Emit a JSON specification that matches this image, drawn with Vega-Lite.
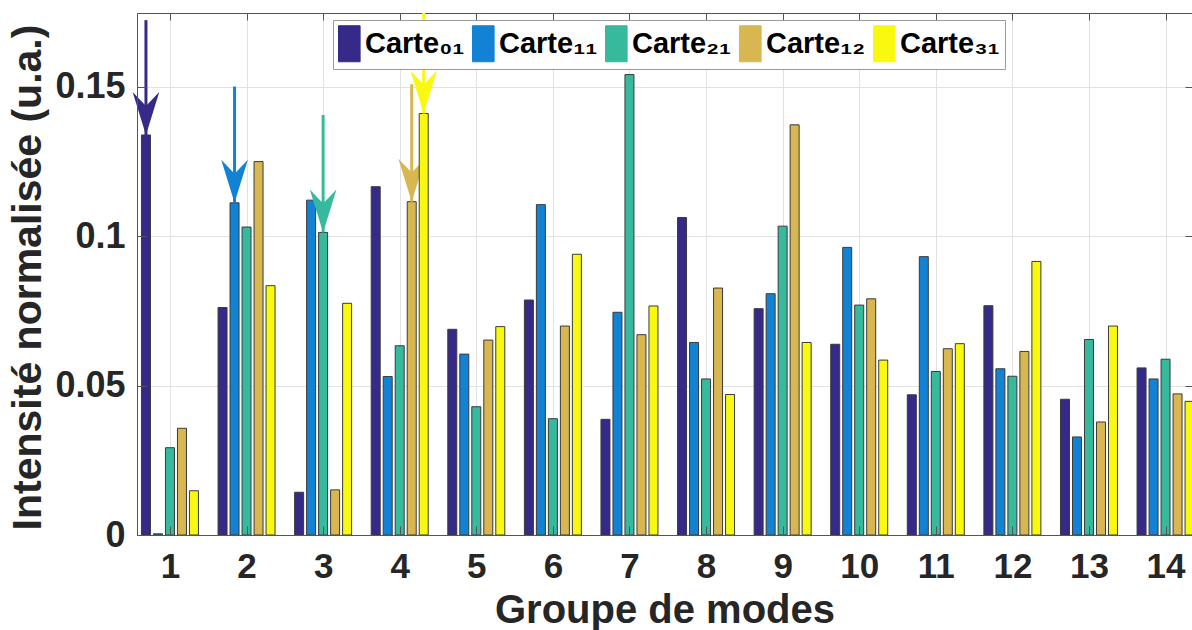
{
  "$schema": "https://vega.github.io/schema/vega-lite/v6.json",
  "width": 1055,
  "height": 522,
  "autosize": "none",
  "padding": {"left": 137, "top": 13, "right": 0, "bottom": 95},
  "background": "white",
  "config": {
    "font": "Liberation Sans",
    "view": {"stroke": null}
  },
  "data": {
    "values": [
      {"group": 1, "carte": "Carte01", "value": 0.1338, "arrow": 0.1722},
      {"group": 1, "carte": "Carte11", "value": 0.0004},
      {"group": 1, "carte": "Carte21", "value": 0.0292},
      {"group": 1, "carte": "Carte12", "value": 0.0357},
      {"group": 1, "carte": "Carte31", "value": 0.0148},
      {"group": 2, "carte": "Carte01", "value": 0.0761},
      {"group": 2, "carte": "Carte11", "value": 0.1111, "arrow": 0.150},
      {"group": 2, "carte": "Carte21", "value": 0.1030},
      {"group": 2, "carte": "Carte12", "value": 0.1249},
      {"group": 2, "carte": "Carte31", "value": 0.0834},
      {"group": 3, "carte": "Carte01", "value": 0.0143},
      {"group": 3, "carte": "Carte11", "value": 0.1120},
      {"group": 3, "carte": "Carte21", "value": 0.1012, "arrow": 0.1405},
      {"group": 3, "carte": "Carte12", "value": 0.0151},
      {"group": 3, "carte": "Carte31", "value": 0.0775},
      {"group": 4, "carte": "Carte01", "value": 0.1165},
      {"group": 4, "carte": "Carte11", "value": 0.0530},
      {"group": 4, "carte": "Carte21", "value": 0.0633},
      {"group": 4, "carte": "Carte12", "value": 0.1115, "arrow": 0.1508},
      {"group": 4, "carte": "Carte31", "value": 0.1410, "arrow": 0.1746},
      {"group": 5, "carte": "Carte01", "value": 0.0688},
      {"group": 5, "carte": "Carte11", "value": 0.0605},
      {"group": 5, "carte": "Carte21", "value": 0.0429},
      {"group": 5, "carte": "Carte12", "value": 0.0652},
      {"group": 5, "carte": "Carte31", "value": 0.0697},
      {"group": 6, "carte": "Carte01", "value": 0.0786},
      {"group": 6, "carte": "Carte11", "value": 0.1105},
      {"group": 6, "carte": "Carte21", "value": 0.0389},
      {"group": 6, "carte": "Carte12", "value": 0.0699},
      {"group": 6, "carte": "Carte31", "value": 0.0939},
      {"group": 7, "carte": "Carte01", "value": 0.0387},
      {"group": 7, "carte": "Carte11", "value": 0.0745},
      {"group": 7, "carte": "Carte21", "value": 0.1540},
      {"group": 7, "carte": "Carte12", "value": 0.0670},
      {"group": 7, "carte": "Carte31", "value": 0.0766},
      {"group": 8, "carte": "Carte01", "value": 0.1062},
      {"group": 8, "carte": "Carte11", "value": 0.0644},
      {"group": 8, "carte": "Carte21", "value": 0.0522},
      {"group": 8, "carte": "Carte12", "value": 0.0826},
      {"group": 8, "carte": "Carte31", "value": 0.0470},
      {"group": 9, "carte": "Carte01", "value": 0.0757},
      {"group": 9, "carte": "Carte11", "value": 0.0807},
      {"group": 9, "carte": "Carte21", "value": 0.1033},
      {"group": 9, "carte": "Carte12", "value": 0.1372},
      {"group": 9, "carte": "Carte31", "value": 0.0644},
      {"group": 10, "carte": "Carte01", "value": 0.0638},
      {"group": 10, "carte": "Carte11", "value": 0.0962},
      {"group": 10, "carte": "Carte21", "value": 0.0769},
      {"group": 10, "carte": "Carte12", "value": 0.0790},
      {"group": 10, "carte": "Carte31", "value": 0.0585},
      {"group": 11, "carte": "Carte01", "value": 0.0469},
      {"group": 11, "carte": "Carte11", "value": 0.0931},
      {"group": 11, "carte": "Carte21", "value": 0.0547},
      {"group": 11, "carte": "Carte12", "value": 0.0623},
      {"group": 11, "carte": "Carte31", "value": 0.0640},
      {"group": 12, "carte": "Carte01", "value": 0.0767},
      {"group": 12, "carte": "Carte11", "value": 0.0556},
      {"group": 12, "carte": "Carte21", "value": 0.0531},
      {"group": 12, "carte": "Carte12", "value": 0.0614},
      {"group": 12, "carte": "Carte31", "value": 0.0915},
      {"group": 13, "carte": "Carte01", "value": 0.0454},
      {"group": 13, "carte": "Carte11", "value": 0.0328},
      {"group": 13, "carte": "Carte21", "value": 0.0654},
      {"group": 13, "carte": "Carte12", "value": 0.0378},
      {"group": 13, "carte": "Carte31", "value": 0.0699},
      {"group": 14, "carte": "Carte01", "value": 0.0559},
      {"group": 14, "carte": "Carte11", "value": 0.0522},
      {"group": 14, "carte": "Carte21", "value": 0.0588},
      {"group": 14, "carte": "Carte12", "value": 0.0472},
      {"group": 14, "carte": "Carte31", "value": 0.0447}
    ]
  },
  "encoding": {
    "x": {"field": "group", "type": "quantitative", "scale": {"domain": [0.635, 14.28], "nice": false, "zero": false}, "axis": null},
    "y": {"field": "value", "type": "quantitative", "scale": {"domain": [0, 0.1746], "nice": false, "zero": true}, "axis": null},
    "color": {"field": "carte", "type": "nominal", "scale": {"domain": ["Carte01", "Carte11", "Carte21", "Carte12", "Carte31"], "range": ["#352a87", "#1283d4", "#36b99c", "#d8b751", "#f8f90f"]}, "legend": null}
  },
  "layer": [
    {
      "mark": {"type": "point", "opacity": 0},
      "encoding": {
        "color": {"value": "transparent"},
        "x": {"field": "group", "type": "quantitative", "scale": {"domain": [0.635, 14.28], "nice": false, "zero": false},
          "axis": {"orient": "top", "values": [1,2,3,4,5,6,7,8,9,10,11,12,13,14], "labels": false, "title": null, "grid": true, "gridColor": "#e2e2e2", "gridWidth": 1, "tickSize": -7, "tickColor": "#555", "domainColor": "#555", "zindex": 0}},
        "y": {"field": "value", "type": "quantitative", "scale": {"domain": [0, 0.1746], "nice": false, "zero": true},
          "axis": {"orient": "right", "values": [0, 0.05, 0.1, 0.15], "labels": false, "title": null, "grid": true, "gridColor": "#e2e2e2", "gridWidth": 1, "tickSize": -7, "tickColor": "#555", "domainColor": "#555", "zindex": 0}}
      }
    },
    {
      "transform": [{"filter": "datum.carte === 'Carte01'"}],
      "layer": [
        {
          "mark": {"type": "bar", "width": 9, "xOffset": -24, "stroke": "#3a3a3a", "strokeWidth": 1, "clip": true},
          "encoding": {
            "color": {"field": "carte", "type": "nominal", "scale": {"domain": ["Carte01", "Carte11", "Carte21", "Carte12", "Carte31"], "range": ["#352a87", "#1283d4", "#36b99c", "#d8b751", "#f8f90f"]},
              "legend": {"orient": "none", "legendX": 196, "legendY": 7, "direction": "horizontal", "title": null,
                "symbolType": "M-1,-1H0.2V1H-1Z", "symbolSize": 1296, "symbolStrokeColor": "#333", "symbolStrokeWidth": 1, "symbolOpacity": 1,
                "labelFont": "Liberation Sans", "labelFontSize": 29, "labelFontWeight": "bold", "labelColor": "#000", "labelOffset": -10, "labelLimit": 300,
                "columnPadding": 5, "padding": 5, "strokeColor": "#9a9a9a", "fillColor": "white", "cornerRadius": 0,
                "labelExpr": "datum.label === 'Carte01' ? 'Carte₀₁' : datum.label === 'Carte11' ? 'Carte₁₁' : datum.label === 'Carte21' ? 'Carte₂₁' : datum.label === 'Carte12' ? 'Carte₁₂' : 'Carte₃₁'"}}
          }
        },
        {
          "transform": [{"filter": "datum.arrow != null"}],
          "mark": {"type": "rule", "xOffset": -24, "strokeWidth": 3},
          "encoding": {"y": {"field": "arrow", "type": "quantitative", "axis": null}, "y2": {"field": "value"}}
        },
        {
          "transform": [{"filter": "datum.arrow != null"}],
          "mark": {"type": "point", "shape": "M0,0L-0.62,-2L0,-1.35L0.62,-2Z", "size": 1849, "filled": true, "opacity": 1, "strokeWidth": 0, "xOffset": -24},
          "encoding": {}
        }
      ]
    },
    {
      "transform": [{"filter": "datum.carte === 'Carte11'"}],
      "layer": [
        {"mark": {"type": "bar", "width": 9, "xOffset": -12, "stroke": "#3a3a3a", "strokeWidth": 1, "clip": true}, "encoding": {}},
        {"transform": [{"filter": "datum.arrow != null"}], "mark": {"type": "rule", "xOffset": -12, "strokeWidth": 3}, "encoding": {"y": {"field": "arrow", "type": "quantitative", "axis": null}, "y2": {"field": "value"}}},
        {"transform": [{"filter": "datum.arrow != null"}], "mark": {"type": "point", "shape": "M0,0L-0.62,-2L0,-1.35L0.62,-2Z", "size": 1849, "filled": true, "opacity": 1, "strokeWidth": 0, "xOffset": -12}, "encoding": {}}
      ]
    },
    {
      "transform": [{"filter": "datum.carte === 'Carte21'"}],
      "layer": [
        {"mark": {"type": "bar", "width": 9, "xOffset": 0, "stroke": "#3a3a3a", "strokeWidth": 1, "clip": true}, "encoding": {}},
        {"transform": [{"filter": "datum.arrow != null"}], "mark": {"type": "rule", "xOffset": 0, "strokeWidth": 3}, "encoding": {"y": {"field": "arrow", "type": "quantitative", "axis": null}, "y2": {"field": "value"}}},
        {"transform": [{"filter": "datum.arrow != null"}], "mark": {"type": "point", "shape": "M0,0L-0.62,-2L0,-1.35L0.62,-2Z", "size": 1849, "filled": true, "opacity": 1, "strokeWidth": 0, "xOffset": 0}, "encoding": {}}
      ]
    },
    {
      "transform": [{"filter": "datum.carte === 'Carte12'"}],
      "layer": [
        {"mark": {"type": "bar", "width": 9, "xOffset": 12, "stroke": "#3a3a3a", "strokeWidth": 1, "clip": true}, "encoding": {}},
        {"transform": [{"filter": "datum.arrow != null"}], "mark": {"type": "rule", "xOffset": 12, "strokeWidth": 3}, "encoding": {"y": {"field": "arrow", "type": "quantitative", "axis": null}, "y2": {"field": "value"}}},
        {"transform": [{"filter": "datum.arrow != null"}], "mark": {"type": "point", "shape": "M0,0L-0.62,-2L0,-1.35L0.62,-2Z", "size": 1849, "filled": true, "opacity": 1, "strokeWidth": 0, "xOffset": 12}, "encoding": {}}
      ]
    },
    {
      "transform": [{"filter": "datum.carte === 'Carte31'"}],
      "layer": [
        {"mark": {"type": "bar", "width": 9, "xOffset": 24, "stroke": "#3a3a3a", "strokeWidth": 1, "clip": true}, "encoding": {}},
        {"transform": [{"filter": "datum.arrow != null"}], "mark": {"type": "rule", "xOffset": 24, "strokeWidth": 3}, "encoding": {"y": {"field": "arrow", "type": "quantitative", "axis": null}, "y2": {"field": "value"}}},
        {"transform": [{"filter": "datum.arrow != null"}], "mark": {"type": "point", "shape": "M0,0L-0.62,-2L0,-1.35L0.62,-2Z", "size": 1849, "filled": true, "opacity": 1, "strokeWidth": 0, "xOffset": 24}, "encoding": {}}
      ]
    },
    {
      "mark": {"type": "point", "opacity": 0},
      "encoding": {
        "color": {"value": "transparent"},
        "x": {"field": "group", "type": "quantitative", "scale": {"domain": [0.635, 14.28], "nice": false, "zero": false},
          "axis": {"orient": "bottom", "values": [1,2,3,4,5,6,7,8,9,10,11,12,13,14], "format": "d", "title": "Groupe de modes", "grid": false, "tickSize": -9, "tickColor": "#555", "domainColor": "#555", "labelPadding": 23, "labelFontSize": 35, "labelFontWeight": "bold", "labelColor": "#262626", "labelFlush": false, "labelOverlap": false, "titleFontSize": 40, "titleFontWeight": "bold", "titleColor": "#262626", "titlePadding": 6, "zindex": 1}},
        "y": {"field": "value", "type": "quantitative", "scale": {"domain": [0, 0.1746], "nice": false, "zero": true},
          "axis": {"orient": "left", "values": [0, 0.05, 0.1, 0.15], "format": "~g", "title": "Intensité normalisée (u.a.)", "grid": false, "tickSize": -9, "tickColor": "#555", "domainColor": "#555", "labelPadding": 21, "labelFontSize": 36, "labelFontWeight": "bold", "labelColor": "#262626", "labelFlush": false, "labelOverlap": false, "titleFontSize": 41, "titleFontWeight": "bold", "titleColor": "#262626", "titlePadding": 5, "titleY": 264, "zindex": 1}}
      }
    }
  ],
  "resolve": {"axis": {"x": "independent", "y": "independent"}}
}
